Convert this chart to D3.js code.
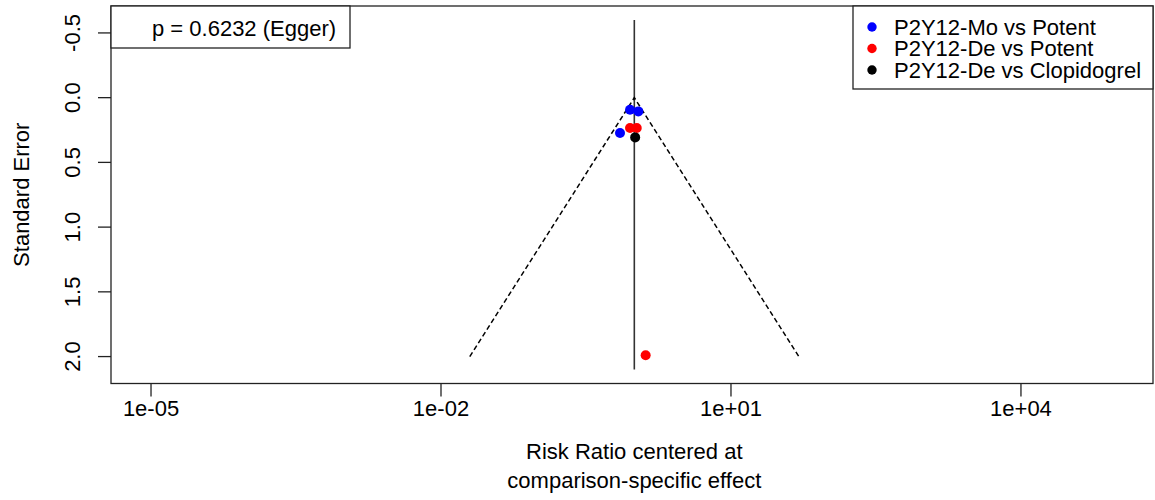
<!DOCTYPE html>
<html>
<head>
<meta charset="utf-8">
<script src="https://cdn.jsdelivr.net/npm/d3@7"></script>
<style>
  html, body { margin: 0; padding: 0; background: #fff; }
  text { font-family: "Liberation Sans", Arial, sans-serif; fill: #000; }
</style>
</head>
<body>
<svg id="chart" width="1155" height="500"></svg>
<script>
// Comparison-adjusted funnel plot: risk ratio centred at each comparison's effect vs standard error
const comparisons = ["P2Y12-Mo vs Potent", "P2Y12-De vs Potent", "P2Y12-De vs Clopidogrel"];
const colors = ["#0000ff", "#ff0000", "#000000"];

// centred risk ratios and their standard errors, per study
const studyGroup = [0, 0, 0, 1, 1, 1, 2];
const studyRR    = [0.903, 1.10, 0.711, 0.903, 1.059, 1.31, 1.02];
const studySE    = [0.093, 0.106, 0.273, 0.234, 0.234, 1.99, 0.307];

// pseudo 95% confidence contour
const funnelSE = [0, 2.0];
const zValue = 1.96;

const xTicks = [1e-5, 1e-2, 1e1, 1e4];
const xTickLabels = ["1e-05", "1e-02", "1e+01", "1e+04"];
const yTicks = [-0.5, 0.0, 0.5, 1.0, 1.5, 2.0];
const yTickLabels = ["-0.5", "0.0", "0.5", "1.0", "1.5", "2.0"];
const yLimits = [-0.6, 2.1];
const eggerLabel = "p = 0.6232 (Egger)";

const svg = d3.select("#chart");
const box = { left: 111, right: 1153, top: 6, bottom: 383.5 };
const fontSize = 22;

const x = d3.scaleLog()
  .domain([Math.pow(10, -5.414), Math.pow(10, 5.366)])
  .range([box.left, box.right]);
const y = d3.scaleLinear()
  .domain([-0.708, 2.208])
  .range([box.top, box.bottom]);

// reference line at RR = 1
svg.append("line")
  .attr("x1", x(1)).attr("x2", x(1))
  .attr("y1", y(yLimits[0])).attr("y2", y(yLimits[1]))
  .attr("stroke", "#333").attr("stroke-width", 1.6);

// funnel contour
const funnelPts = [
  [Math.exp(-zValue * funnelSE[1]), funnelSE[1]],
  [Math.exp(-zValue * funnelSE[0]), funnelSE[0]],
  [Math.exp(zValue * funnelSE[1]), funnelSE[1]]
];
svg.append("path")
  .attr("d", d3.line().x(d => x(d[0])).y(d => y(d[1]))(funnelPts))
  .attr("fill", "none")
  .attr("stroke", "#000")
  .attr("stroke-width", 1.5)
  .attr("stroke-dasharray", "5,3");

// study points
svg.append("g").selectAll("circle")
  .data(studyRR.map((rr, i) => ({ rr, se: studySE[i], g: studyGroup[i] })))
  .join("circle")
  .attr("cx", d => x(d.rr))
  .attr("cy", d => y(d.se))
  .attr("r", 5)
  .attr("fill", d => colors[d.g]);

// plot frame
svg.append("rect")
  .attr("x", box.left).attr("y", box.top)
  .attr("width", box.right - box.left).attr("height", box.bottom - box.top)
  .attr("fill", "none").attr("stroke", "#222").attr("stroke-width", 1.3);

// x axis
const xAxis = svg.append("g");
xTicks.forEach((t, i) => {
  xAxis.append("line")
    .attr("x1", x(t)).attr("x2", x(t))
    .attr("y1", box.bottom).attr("y2", box.bottom + 13)
    .attr("stroke", "#222").attr("stroke-width", 1.3);
  xAxis.append("text")
    .attr("x", x(t)).attr("y", 416)
    .attr("text-anchor", "middle")
    .attr("font-size", fontSize)
    .text(xTickLabels[i]);
});
svg.append("text").attr("x", x(1)).attr("y", 459)
  .attr("text-anchor", "middle").attr("font-size", fontSize)
  .text("Risk Ratio centered at");
svg.append("text").attr("x", x(1)).attr("y", 488)
  .attr("text-anchor", "middle").attr("font-size", fontSize)
  .text("comparison-specific effect");

// y axis
const yAxis = svg.append("g");
yTicks.forEach((t, i) => {
  yAxis.append("line")
    .attr("x1", box.left - 13).attr("x2", box.left)
    .attr("y1", y(t)).attr("y2", y(t))
    .attr("stroke", "#222").attr("stroke-width", 1.3);
  yAxis.append("text")
    .attr("transform", `translate(80,${y(t)}) rotate(-90)`)
    .attr("text-anchor", "middle")
    .attr("font-size", fontSize)
    .text(yTickLabels[i]);
});
svg.append("text")
  .attr("transform", `translate(29,${(box.top + box.bottom) / 2}) rotate(-90)`)
  .attr("text-anchor", "middle")
  .attr("font-size", fontSize)
  .text("Standard Error");

// Egger test box
svg.append("rect")
  .attr("x", box.left).attr("y", box.top)
  .attr("width", 239).attr("height", 42)
  .attr("fill", "#fff").attr("stroke", "#222").attr("stroke-width", 1.3);
svg.append("text").attr("x", 152).attr("y", 36)
  .attr("font-size", fontSize).text(eggerLabel);

// legend
const legend = svg.append("g");
legend.append("rect")
  .attr("x", 853).attr("y", box.top)
  .attr("width", box.right - 853).attr("height", 83)
  .attr("fill", "#fff").attr("stroke", "#222").attr("stroke-width", 1.3);
comparisons.forEach((c, i) => {
  const cy = 27 + i * 21.5;
  legend.append("circle").attr("cx", 872).attr("cy", cy).attr("r", 4.7).attr("fill", colors[i]);
  legend.append("text").attr("x", 894).attr("y", cy + 7.8)
    .attr("font-size", fontSize).text(c);
});
</script>
</body>
</html>
